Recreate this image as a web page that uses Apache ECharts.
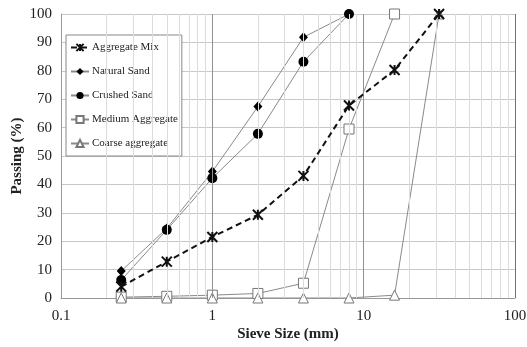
<!DOCTYPE html>
<html>
<head>
<meta charset="utf-8">
<script src="https://cdn.jsdelivr.net/npm/echarts@6/dist/echarts.min.js"></script>
<style>
  html, body { margin: 0; padding: 0; background: #fff; }
  #chart { width: 527px; height: 347px; }
</style>
</head>
<body>
<div id="chart"></div>
<script>
// sieve sizes (mm) and percent passing per material
var sieves = [0.25, 0.5, 1, 2, 4, 8, 16, 31.5];
var aggregateMix = [4, 12.8, 21.5, 29.3, 43, 67.8, 80.3, 100];
var naturalSand = [9.5, 24.5, 44.5, 67.4, 91.8, 100, null, null];
var crushedSand = [6.3, 24, 42.2, 57.8, 83.2, 100, null, null];
var mediumAggregate = [0.3, 0.6, 1, 1.6, 5.2, 59.5, 100, null];
var coarseAggregate = [0, 0, 0, 0, 0, 0, 1, 100];
var minorLines = [0.2, 0.3, 0.4, 0.5, 0.6, 0.7, 0.8, 0.9,
                  2, 3, 4, 5, 6, 7, 8, 9,
                  20, 30, 40, 50, 60, 70, 80, 90];
var majorLines = [1, 10];

var SERIF = "'Liberation Serif', 'DejaVu Serif', serif";
var ASTERISK = "path://M0 0L10 10M10 0L0 10M5 0L5 10";

function pairs(values) {
  var out = [];
  values.forEach(function (v, i) {
    if (v != null) out.push([sieves[i], v]);
  });
  return out;
}

function gridLineSeries(xs, color) {
  return {
    type: "line",
    data: [],
    silent: true,
    z: 1,
    markLine: {
      silent: true,
      symbol: "none",
      label: { show: false },
      lineStyle: { color: color, width: 1, type: "solid" },
      data: xs.map(function (x) { return { xAxis: x }; })
    }
  };
}

var chart = echarts.init(document.getElementById("chart"), null, { renderer: "canvas" });

chart.setOption({
  animation: false,
  backgroundColor: "#fff",
  grid: { left: 61, right: 12, top: 14, bottom: 49, show: false, outerBoundsMode: "none", containLabel: false },
  legend: {
    orient: "vertical",
    left: 66,
    top: 35,
    padding: [7, 4, 7, 4],
    itemGap: 13,
    itemWidth: 18,
    itemHeight: 9,
    backgroundColor: "#fff",
    borderColor: "#888",
    borderWidth: 1,
    textStyle: { fontFamily: SERIF, fontSize: 11, color: "#222", padding: [0, 0, 0, -2] },
    data: ["Aggregate Mix", "Natural Sand", "Crushed Sand", "Medium Aggregate", "Coarse aggregate"]
  },
  xAxis: {
    type: "log",
    logBase: 10,
    min: 0.1,
    max: 100,
    name: "Sieve Size (mm)",
    nameLocation: "middle",
    nameGap: 29,
    nameMoveOverlap: false,
    nameTextStyle: { fontFamily: SERIF, fontSize: 15, fontWeight: "bold", color: "#222" },
    axisLine: { onZero: false, lineStyle: { color: "#999" } },
    axisTick: { show: false },
    axisLabel: {
      fontFamily: SERIF, fontSize: 15, color: "#222", margin: 11,
      formatter: function (v) { return String(v); }
    },
    splitLine: { show: false }
  },
  yAxis: {
    type: "value",
    min: 0,
    max: 100,
    interval: 10,
    name: "Passing (%)",
    nameLocation: "middle",
    nameGap: 36,
    nameMoveOverlap: false,
    nameTextStyle: { fontFamily: SERIF, fontSize: 15, fontWeight: "bold", color: "#222" },
    axisLine: { show: true, lineStyle: { color: "#999" } },
    axisTick: { show: false },
    axisLabel: { fontFamily: SERIF, fontSize: 15, color: "#222", margin: 9 },
    splitLine: { show: true, lineStyle: { color: "#c8c8c8", width: 1 } }
  },
  series: [
    gridLineSeries(minorLines, "#dcdcdc"),
    gridLineSeries(majorLines, "#909090"),
    gridLineSeries([100], "#707070"),
    {
      name: "Aggregate Mix",
      type: "line",
      z: 5,
      data: pairs(aggregateMix),
      lineStyle: { color: "#111", width: 2, type: [6, 4] },
      symbol: ASTERISK,
      symbolSize: 10,
      itemStyle: { color: "#111", borderColor: "#111", borderWidth: 2 }
    },
    {
      name: "Natural Sand",
      type: "line",
      z: 4,
      data: pairs(naturalSand),
      lineStyle: { color: "#8a8a8a", width: 1 },
      symbol: "diamond",
      symbolSize: [9, 10],
      itemStyle: { color: "#000", borderColor: "#000", borderWidth: 0 }
    },
    {
      name: "Crushed Sand",
      type: "line",
      z: 4,
      data: pairs(crushedSand),
      lineStyle: { color: "#8a8a8a", width: 1 },
      symbol: "circle",
      symbolSize: 10,
      itemStyle: { color: "#000", borderColor: "#000", borderWidth: 0 }
    },
    {
      name: "Medium Aggregate",
      type: "line",
      z: 4,
      data: pairs(mediumAggregate),
      lineStyle: { color: "#8a8a8a", width: 1 },
      symbol: "rect",
      symbolSize: 10,
      itemStyle: { color: "#fff", borderColor: "#777", borderWidth: 1 }
    },
    {
      name: "Coarse aggregate",
      type: "line",
      z: 4,
      data: pairs(coarseAggregate),
      lineStyle: { color: "#8a8a8a", width: 1 },
      symbol: "triangle",
      symbolSize: 10,
      itemStyle: { color: "#fff", borderColor: "#777", borderWidth: 1 }
    }
  ]
});
</script>
</body>
</html>
